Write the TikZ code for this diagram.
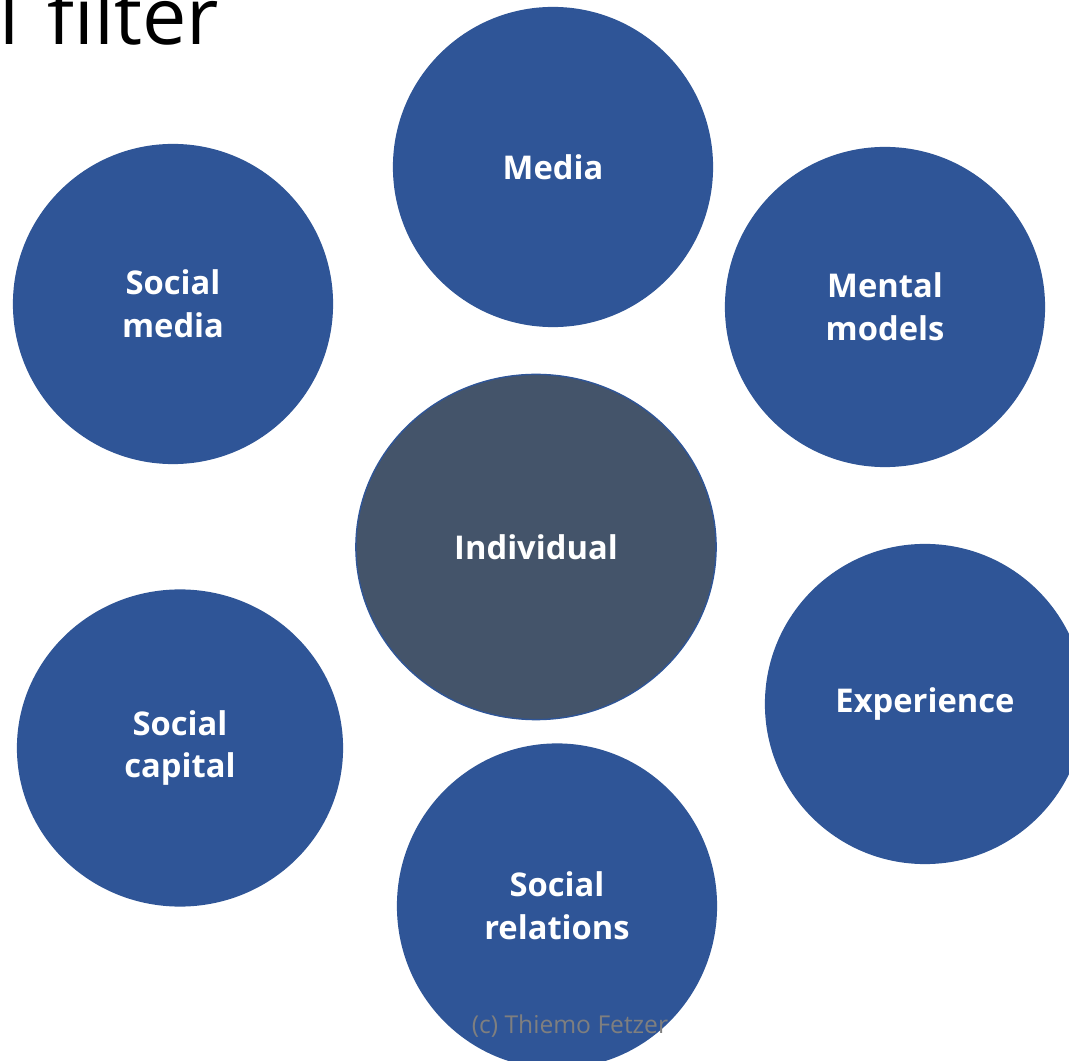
\documentclass[tikz,border=0pt]{standalone}
\usepackage{fontspec}
\setmainfont{Open Sans}
\usepackage{tikz}
\usetikzlibrary{shapes.geometric}
\definecolor{bubbleblue}{HTML}{2F5597}
\definecolor{hubslate}{HTML}{44546A}
\definecolor{markgray}{HTML}{7F7F7F}
\tikzset{%
       bubble/.style = { ellipse, fill=bubbleblue, text=white, align=center, inner sep=0pt,
                         minimum width=3.2cm, minimum height=3.2cm,
                         font=\fontsize{9.3}{12.1}\selectfont\bfseries },
          hub/.style = { bubble, fill=hubslate, draw=bubbleblue, line width=0.4pt },
        title/.style = { anchor=base west, inner sep=0pt, font=\fontsize{22.5}{26}\selectfont },
    watermark/.style = { text=markgray, inner sep=0pt, font=\fontsize{7}{8}\selectfont }
}
\begin{document}
\begin{tikzpicture}[x=0.01cm,y=-0.01cm]
\clip (0,0) rectangle (1069,1061);
\fill[white] (0,0) rectangle (1069,1061);
% slide title, cut by the frame
\node[title] (head) at (-1,45) {l\hspace{2pt} filter};
% the ring round the individual
\node[bubble] (media)     at (553,167) {Media};
\node[bubble] (socmedia)  at (173,304) {Social\\media};
\node[bubble] (mental)    at (885,307) {Mental\\models};
\node[bubble] (exper)     at (925,704) {Experience};
\node[bubble, minimum width=3.26cm, minimum height=3.17cm] (capital) at (180,748) {Social\\capital};
\node[bubble, minimum height=3.25cm] (relations) at (557,906) {Social\\relations};
\node[hub, minimum width=3.6cm, minimum height=3.45cm] (indiv) at (536,547) {Individual};
\node[watermark] (credit) at (570,1026) {(c) Thiemo Fetzer};
\end{tikzpicture}
\end{document}
